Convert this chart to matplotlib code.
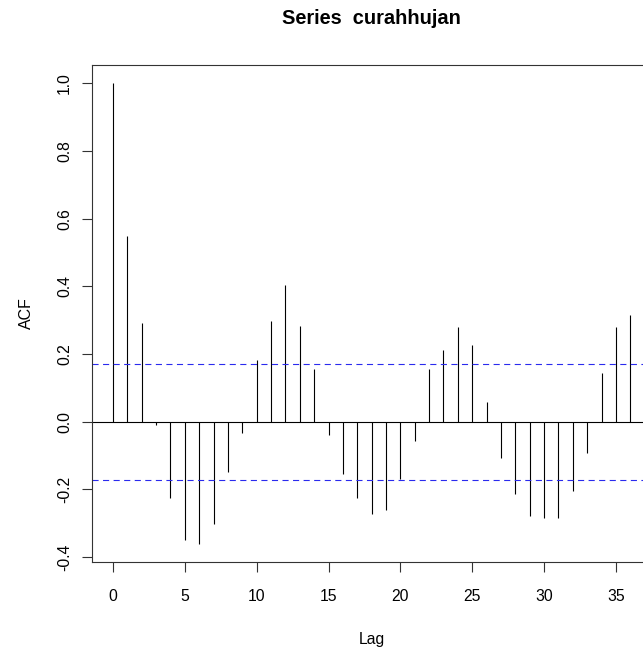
import matplotlib
matplotlib.use("Agg")
import matplotlib.pyplot as plt
import numpy as np

plt.rcParams['font.family'] = ['Liberation Sans', 'DejaVu Sans']

# ACF values, lags 0..36
lags = list(range(0, 37))
acf = [1.000, 0.548, 0.293, -0.009, -0.226, -0.351, -0.362, -0.302, -0.150,
       -0.034, 0.184, 0.298, 0.405, 0.283, 0.157, -0.039, -0.155, -0.226,
       -0.273, -0.260, -0.169, -0.057, 0.155, 0.211, 0.281, 0.228, 0.057,
       -0.107, -0.213, -0.279, -0.284, -0.284, -0.205, -0.093, 0.144, 0.281,
       0.317]
conf = 0.171
xticks = [0, 5, 10, 15, 20, 25, 30, 35]
yticks = [-0.4, -0.2, 0.0, 0.2, 0.4, 0.6, 0.8, 1.0]

fig = plt.figure(figsize=(6.43, 6.49), dpi=100)
# axes box runs past the right edge, as in the cropped original
ax = fig.add_axes([92.3 / 643, 1 - 562 / 649, (651 - 92.3) / 643, (562 - 65) / 649])

ax.vlines(lags, 0, acf, colors='black', linewidth=0.8)
ax.axhline(0, color='black', linewidth=0.8)
for c in (conf, -conf):
    ax.axhline(c, color='#2a2aee', linewidth=0.8, linestyle=(0, (5.5, 4.0)))

ax.set_xlim(-1.44, 37.44)
ax.set_ylim(-0.4146, 1.0546)
ax.set_xticks(xticks)
ax.set_yticks(yticks)
ax.set_yticklabels([f"{v:.1f}" for v in yticks], rotation=90, va='center')

for s in ax.spines.values():
    s.set_linewidth(0.8)
    s.set_color('#333333')
ax.tick_params(length=7.5, width=0.8, color='#333333', labelsize=11.3, pad=7)
ax.tick_params(axis='x', pad=12)

ax.set_xlabel('Lag', fontsize=11.3, labelpad=20)
ax.set_ylabel('ACF', fontsize=11.5, labelpad=17)
fig.text((92.3 + 651) / 2 / 643, 1 - 18 / 649, 'Series  curahhujan',
         fontsize=14.4, fontweight='bold', ha='center', va='center')

fig.savefig('out.png', dpi=100)
